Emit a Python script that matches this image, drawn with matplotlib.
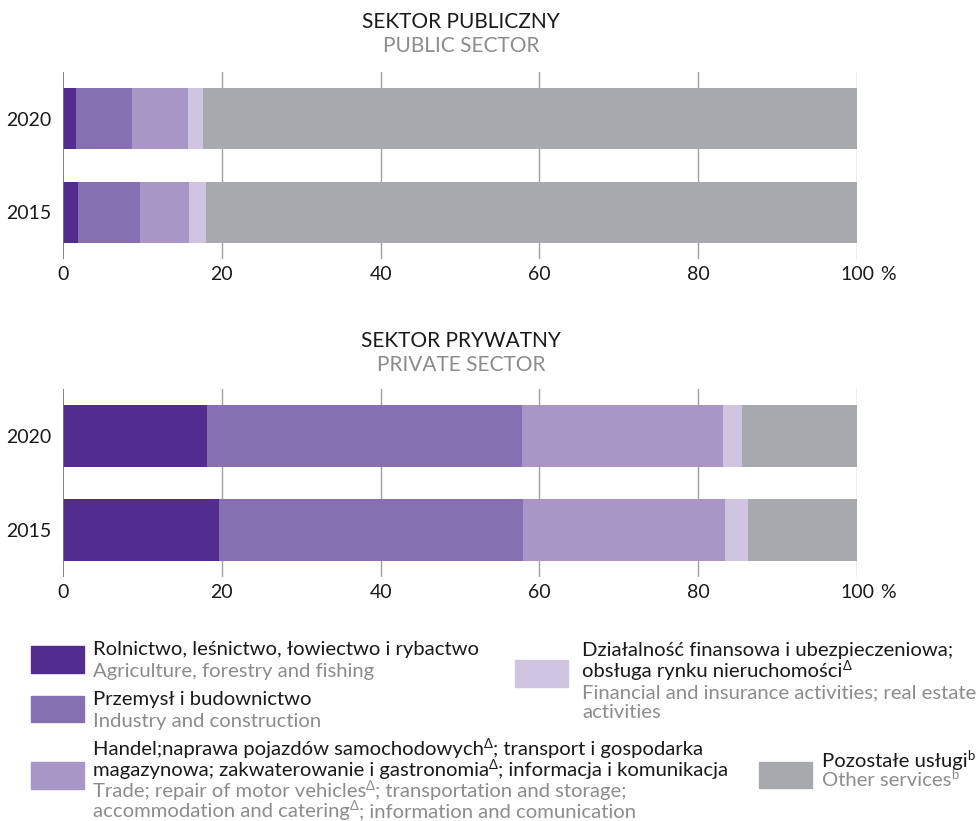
import matplotlib.pyplot as plt

plt.rcParams['font.family'] = ['Lato', 'DejaVu Sans']

years = ['2015', '2020']
# shares in % (agri, industry, trade, finance, other)
public_agri = [1.9, 1.7]
public_ind = [7.8, 7.0]
public_trade = [6.2, 7.0]
public_fin = [2.1, 1.9]
public_other = [82.0, 82.4]

private_agri = [19.6, 18.1]
private_ind = [38.3, 39.7]
private_trade = [25.5, 25.3]
private_fin = [2.9, 2.4]
private_other = [13.7, 14.5]

colors = ['#522d8f', '#8571b2', '#a897c6', '#cfc5e1', '#a8a9ac']
ticks = [0, 20, 40, 60, 80, 100]
dark = '#1a1a1a'
grey_txt = '#8c8c8c'

W, H = 978, 821
fig = plt.figure(figsize=(9.78, 8.21), dpi=100)


def panel(rect, series):
    ax = fig.add_axes(rect)
    left = [0, 0]
    for vals, c in zip(series, colors):
        ax.barh(years, vals, left=left, height=0.656, color=c, zorder=2)
        left = [l + v for l, v in zip(left, vals)]
    ax.set_xlim(0, 100)
    ax.set_ylim(-0.5, 1.5)
    ax.set_xticks(ticks)
    for t in ticks[1:]:
        ax.axvline(t, color='#a0a0a0', lw=1, zorder=1)
    ax.axvline(0, color='#777777', lw=1.3, zorder=3)
    for s in ax.spines.values():
        s.set_visible(False)
    ax.tick_params(length=0, labelsize=14, colors=dark, pad=5)
    ax.tick_params(axis='y', pad=8)
    ax.annotate('%', xy=(100, 0), xycoords=('data', 'axes fraction'),
                xytext=(22, -5), textcoords='offset points', ha='center', va='top',
                fontsize=14, color=dark)
    return ax


ax1 = panel([0.0644, 0.6845, 0.812, 0.2278],
            [public_agri, public_ind, public_trade, public_fin, public_other])
ax2 = panel([0.0644, 0.2972, 0.812, 0.229],
            [private_agri, private_ind, private_trade, private_fin, private_other])

fig.text(461 / W, 1 - 22 / H, 'SEKTOR PUBLICZNY', ha='center', va='center', fontsize=15, color=dark)
fig.text(461 / W, 1 - 46 / H, 'PUBLIC SECTOR', ha='center', va='center', fontsize=15, color=grey_txt)
fig.text(461 / W, 1 - 341 / H, 'SEKTOR PRYWATNY', ha='center', va='center', fontsize=15, color=dark)
fig.text(461 / W, 1 - 365 / H, 'PRIVATE SECTOR', ha='center', va='center', fontsize=15, color=grey_txt)

# legend
renderer = fig.canvas.get_renderer()
FS = 14.6


def box(x0, y0, x1, y1, c):
    fig.patches.append(plt.Rectangle((x0 / W, 1 - y1 / H), (x1 - x0) / W, (y1 - y0) / H,
                                     transform=fig.transFigure, color=c, figure=fig))


def line(x, base, text, color):
    # '^' marks a superscript segment ending at the next '|'
    parts = []
    for i, seg in enumerate(text.split('^')):
        if i == 0:
            parts.append((seg, False))
        else:
            sup, rest = seg.split('|', 1)
            parts.append((sup, True))
            parts.append((rest, False))
    xp = x
    for seg, sup in parts:
        if not seg:
            continue
        y = base - (7 if sup else 0)
        t = fig.text(xp / W, 1 - y / H, seg, ha='left', va='baseline',
                     fontsize=FS * 0.65 if sup else FS, color=color)
        xp += t.get_window_extent(renderer).width


def block(x, bases, texts, cols):
    for b, t, c in zip(bases, texts, cols):
        line(x, b, t, c)


box(31, 646, 84, 673, colors[0])
block(93, [655, 677], ['Rolnictwo, leśnictwo, łowiectwo i rybactwo',
                       'Agriculture, forestry and fishing'], [dark, grey_txt])
box(31, 696, 84, 722, colors[1])
block(93, [705, 727], ['Przemysł i budownictwo', 'Industry and construction'], [dark, grey_txt])
box(31, 762, 84, 789, colors[2])
block(93, [755, 776, 797, 817],
      ['Handel;naprawa pojazdów samochodowych^Δ|; transport i gospodarka',
       'magazynowa; zakwaterowanie i gastronomia^Δ|; informacja i komunikacja',
       'Trade; repair of motor vehicles^Δ|; transportation and storage;',
       'accommodation and catering^Δ|; information and comunication'],
      [dark, dark, grey_txt, grey_txt])
box(515, 660, 568, 687, colors[3])
block(582, [656, 677, 698, 718],
      ['Działalność finansowa i ubezpieczeniowa;',
       'obsługa rynku nieruchomości^Δ|',
       'Financial and insurance activities; real estate',
       'activities'],
      [dark, dark, grey_txt, grey_txt])
box(759, 762, 812, 788, colors[4])
block(822, [767, 786], ['Pozostałe usługi^b|', 'Other services^b|'], [dark, grey_txt])

fig.savefig('out.png', dpi=100)
